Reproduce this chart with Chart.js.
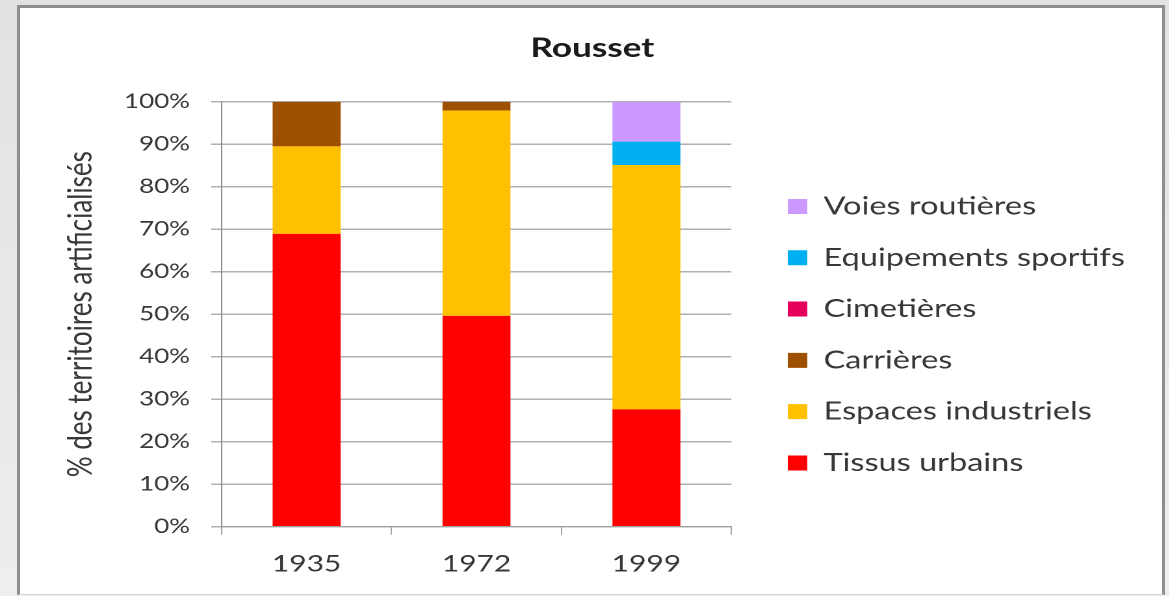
<!DOCTYPE html>
<html lang="fr">
<head>
<meta charset="utf-8">
<title>Rousset</title>
<script src="https://cdn.jsdelivr.net/npm/chart.js@4.4.0/dist/chart.umd.min.js"></script>
<style>
  html, body { margin: 0; width: 1169px; height: 596px; overflow: hidden; }
  body { position: relative; background: linear-gradient(#e2e2e2, #eeeeee); }
  #cadre {
    position: absolute; left: 17px; top: 5px; width: 1148px; height: 590px;
    box-sizing: border-box; background: #fff;
    border: 3px solid #8e8e8e; border-bottom: 1px solid #d6d6d6;
  }
  /* le graphique est dessiné étroit puis étiré en largeur */
  #rousset { position: absolute; left: 0; top: 0; transform: scaleX(1.3); transform-origin: 0 0; }
</style>
</head>
<body>
<div id="cadre"></div>
<canvas id="rousset" width="899" height="596"></canvas>
<script>
// Données
const annees = ['1935', '1972', '1999'];
const tissusUrbains = [68.9, 49.6, 27.6];
const espacesIndustriels = [20.6, 48.3, 57.5];
const carrieres = [10.5, 2.1, 0];
const cimetieres = [0, 0, 0];
const equipementsSportifs = [0, 0, 5.5];
const voiesRoutieres = [0, 0, 9.4];

const series = [
    { label: 'Tissus urbains', data: tissusUrbains, couleur: '#ff0000' },
    { label: 'Espaces industriels', data: espacesIndustriels, couleur: '#ffc000' },
    { label: 'Carrières', data: carrieres, couleur: '#9e4f00' },
    { label: 'Cimetières', data: cimetieres, couleur: '#e6005c' },
    { label: 'Equipements sportifs', data: equipementsSportifs, couleur: '#00b0f0' },
    { label: 'Voies routières', data: voiesRoutieres, couleur: '#cc99ff' }
];

// Mise en page (unités du canvas avant étirement)
const ETIRE = 1.3;
const LARGEUR = 1169 / ETIRE;
const HAUTEUR = 596;
const zone = { gauche: 170.5, droite: 562.8, haut: 101.7, bas: 526.7 };
const leg = { police: 25, boite: 15, espace: 26.3, decalage: 26.6 };
const ecartLegende = 17.1;
const centreTitre = 455.8;

Chart.defaults.font.family = 'Lato';
Chart.defaults.color = '#383838';

// largeur de la légende, calculée comme Chart.js le fait
const mesure = document.createElement('canvas').getContext('2d');
mesure.font = leg.police + 'px Lato';
const texteMax = Math.max(...series.map(s => mesure.measureText(s.label).width));
const largeurLegende = leg.espace + leg.boite + leg.police / 2 + texteMax + 10;
const padDroite = Math.max(0, LARGEUR - zone.droite - ecartLegende - largeurLegende);
const padGauche = Math.max(0, 2 * centreTitre - LARGEUR + padDroite);

const policeX = 23;
const padTicksX = 15.5;
// hauteur de l'axe x : graduation + 2 x marge + ligne de texte
const padBas = Math.max(0, HAUTEUR - zone.bas - (8 + 2 * padTicksX + policeX * 1.2));
const titreHaut = 31.9;
const titreBas = zone.haut - titreHaut - 27 * 1.2;

const ctx = document.getElementById('rousset').getContext('2d');

const graphique = new Chart(ctx, {
    type: 'bar',
    data: {
        labels: annees,
        datasets: series.map(s => ({
            label: s.label,
            data: s.data,
            backgroundColor: s.couleur,
            borderWidth: 0,
            barPercentage: 0.4,
            categoryPercentage: 1
        }))
    },
    options: {
        responsive: false,
        animation: false,
        devicePixelRatio: 2,
        layout: {
            padding: { left: padGauche, right: padDroite, top: 0, bottom: padBas }
        },
        plugins: {
            tooltip: { enabled: false },
            title: {
                display: true,
                text: 'Rousset',
                color: '#1a1a1a',
                font: { size: 27, weight: 'bold' },
                padding: { top: titreHaut, bottom: titreBas }
            },
            legend: {
                position: 'right',
                fullSize: false,
                reverse: true,
                maxWidth: largeurLegende + 1,
                title: { display: true, text: '', padding: { top: leg.decalage, bottom: 0 } },
                labels: {
                    font: { size: leg.police },
                    color: '#383838',
                    boxWidth: leg.boite,
                    boxHeight: leg.boite,
                    padding: leg.espace
                }
            }
        },
        scales: {
            x: {
                stacked: true,
                grid: { display: true, drawOnChartArea: false, tickLength: 8, color: '#a0a0a0', offset: true },
                border: { color: '#a0a0a0' },
                ticks: { font: { size: policeX }, padding: padTicksX }
            },
            y: {
                stacked: true,
                min: 0,
                max: 100,
                grid: { color: '#b0b0b0', lineWidth: 1.5, tickLength: 8 },
                border: { color: '#909090' },
                ticks: {
                    stepSize: 10,
                    padding: 16.3,
                    font: { size: 20 },
                    callback: v => v + '%'
                },
                title: {
                    display: true,
                    text: '% des territoires artificialisés',
                    font: { size: 26 },
                    padding: { top: Math.max(0, 46.4 - padGauche), bottom: 0 }
                },
                afterFit: scale => { scale.width = zone.gauche - padGauche; }
            },
            // espace vide entre le graphique et la légende
            ecart: {
                type: 'linear',
                position: 'right',
                grid: { display: false },
                border: { display: false },
                ticks: { display: false },
                afterFit: scale => { scale.width = ecartLegende; }
            }
        }
    }
});
</script>
</body>
</html>
